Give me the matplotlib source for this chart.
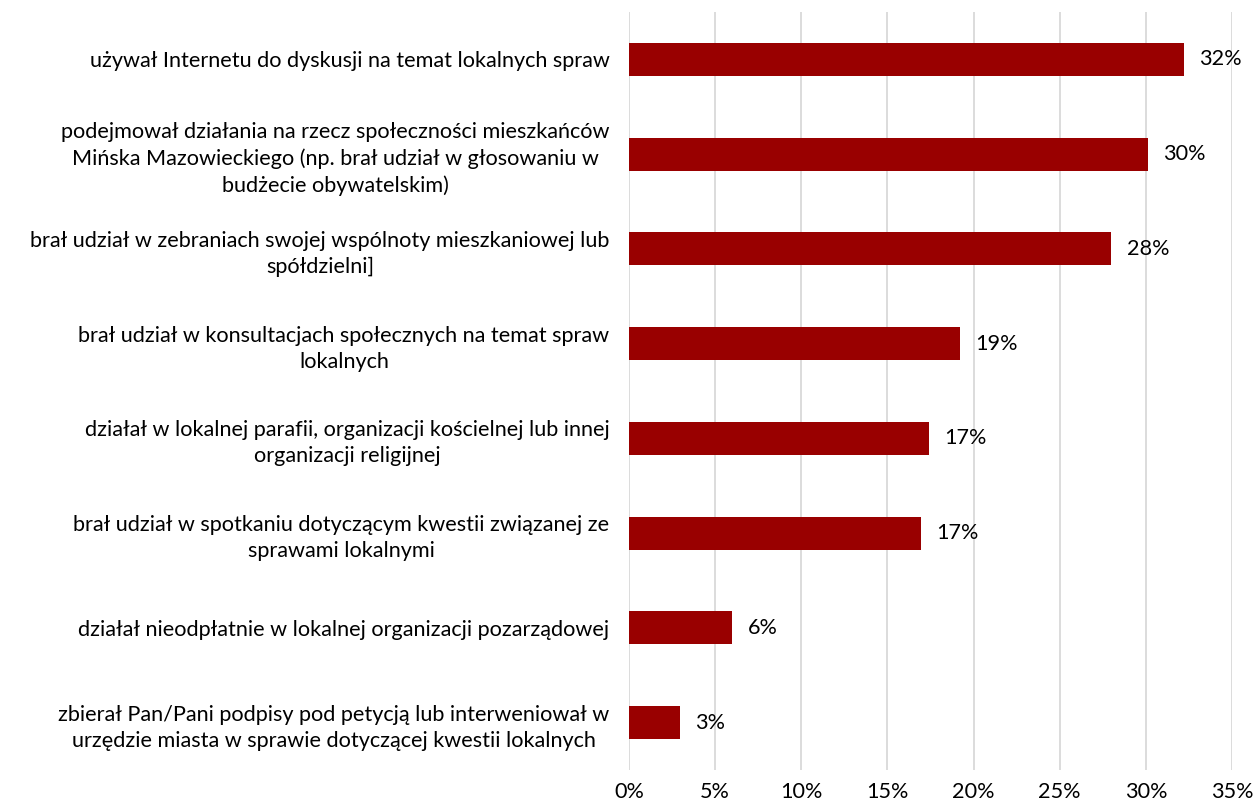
import matplotlib
matplotlib.use("Agg")
import matplotlib.pyplot as plt
from matplotlib.ticker import MultipleLocator, FuncFormatter

categories = [
    "używał Internetu do dyskusji na temat lokalnych spraw",
    "podejmował działania na rzecz społeczności mieszkańców\nMińska Mazowieckiego (np. brał udział w głosowaniu w\nbudżecie obywatelskim)",
    "brał udział w zebraniach swojej wspólnoty mieszkaniowej lub\nspółdzielni]",
    "brał udział w konsultacjach społecznych na temat spraw\nlokalnych",
    "działał w lokalnej parafii, organizacji kościelnej lub innej\norganizacji religijnej",
    "brał udział w spotkaniu dotyczącym kwestii związanej ze\nsprawami lokalnymi",
    "działał nieodpłatnie w lokalnej organizacji pozarządowej",
    "zbierał Pan/Pani podpisy pod petycją lub interweniował w\nurzędzie miasta w sprawie dotyczącej kwestii lokalnych",
]
values = [32.2, 30.1, 28.0, 19.2, 17.4, 16.95, 6.0, 2.95]
value_labels = ["32%", "30%", "28%", "19%", "17%", "17%", "6%", "3%"]
x_max = 35
x_step = 5

plt.rcParams['font.family'] = ['Lato', 'DejaVu Sans']
FS = 15.6

fig = plt.figure(figsize=(12.55, 8.10), dpi=100)
ax = fig.add_axes([629/1255, 1-770/810, (1232-629)/1255, (770-12)/810])

ypos = list(range(len(categories)))
ax.barh(ypos, values, height=0.35, color="#990000", zorder=3)
ax.set_ylim(len(categories)-0.5, -0.5)
ax.set_xlim(0, x_max)
ax.xaxis.set_major_locator(MultipleLocator(x_step))
ax.xaxis.set_major_formatter(FuncFormatter(lambda v, p: f"{int(round(v))}%"))
ax.grid(axis='x', color="#d9d9d9", linewidth=1.3, zorder=0)
for s in ax.spines.values():
    s.set_visible(False)
ax.tick_params(axis='both', length=0, labelsize=FS, colors="#000000")
ax.tick_params(axis='x', pad=9)
ax.tick_params(axis='y', pad=14)
ax.set_yticks(ypos)
ax.set_yticklabels(categories)
for t in ax.get_yticklabels():
    t.set_multialignment('center')
    t.set_linespacing(1.37)

for y, v, lab in zip(ypos, values, value_labels):
    ax.annotate(lab, (v, y), xytext=(11, 0), textcoords='offset points',
                va='center', ha='left', fontsize=FS)

fig.savefig("out.png", dpi=100)
